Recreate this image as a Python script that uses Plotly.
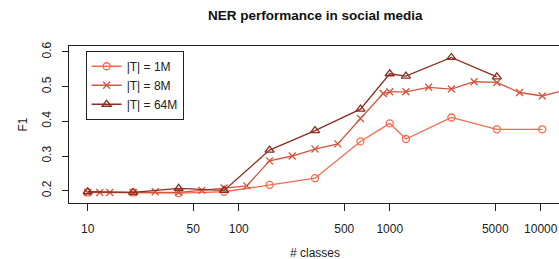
import plotly.graph_objects as go

x_1M = [10, 20, 40, 80, 160, 320, 640, 1000, 1280, 2560, 5120, 10240]
y_1M = [0.195, 0.195, 0.193, 0.197, 0.217, 0.236, 0.342, 0.394, 0.349, 0.411, 0.377, 0.377]

x_8M = [10, 12, 14, 20, 28, 40, 57, 80, 113, 160, 226, 320, 453, 640, 905, 1000,
        1280, 1810, 2560, 3620, 5120, 7240, 10240, 14480]
y_8M = [0.195, 0.195, 0.195, 0.195, 0.197, 0.195, 0.201, 0.208, 0.214, 0.286, 0.300,
        0.320, 0.335, 0.408, 0.480, 0.485, 0.485, 0.498, 0.493, 0.514, 0.512, 0.483,
        0.473, 0.490]

x_64M = [10, 20, 40, 80, 160, 320, 640, 1000, 1280, 2560, 5120]
y_64M = [0.197, 0.195, 0.207, 0.201, 0.317, 0.373, 0.435, 0.537, 0.530, 0.584, 0.528]

x_ticks = [10, 50, 100, 500, 1000, 5000, 10000]
y_ticks = [0.2, 0.3, 0.4, 0.5, 0.6]

c1, c2, c3 = "#F8694F", "#D4553D", "#8C2E20"
font = "Liberation Sans, Arial, sans-serif"

fig = go.Figure()
fig.add_trace(go.Scatter(x=x_1M, y=y_1M, mode="lines+markers", name="|T| = 1M",
                         line=dict(color=c1, width=1.3),
                         marker=dict(symbol="circle-open", size=7, color=c1, line=dict(width=1.3))))
fig.add_trace(go.Scatter(x=x_8M, y=y_8M, mode="lines+markers", name="|T| = 8M",
                         line=dict(color=c2, width=1.3),
                         marker=dict(symbol="x-thin-open", size=7, color=c2, line=dict(width=1.3))))
fig.add_trace(go.Scatter(x=x_64M, y=y_64M, mode="lines+markers", name="|T| = 64M",
                         line=dict(color=c3, width=1.3),
                         marker=dict(symbol="triangle-up-open", size=8, color=c3, line=dict(width=1.3))))

fig.update_layout(
    width=559, height=259,
    margin=dict(l=69, r=0, t=46, b=56, autoexpand=False),
    paper_bgcolor="white", plot_bgcolor="white",
    font=dict(family=font, size=12, color="#222"),
    showlegend=True,
    legend=dict(x=0.034, y=0.75, xanchor="left", yanchor="middle",
                bgcolor="white", bordercolor="#222", borderwidth=1,
                font=dict(size=12, color="#222"), tracegroupgap=0,
                itemwidth=30),
    annotations=[
        dict(text="<b>NER performance in social media</b>", xref="paper", yref="paper",
             x=0.504, y=1, yshift=31, showarrow=False, font=dict(size=13.5, color="#111"),
             xanchor="center", yanchor="middle"),
        dict(text="# classes", xref="paper", yref="paper", x=0.502, y=0, yshift=-50,
             showarrow=False, font=dict(size=12, color="#222"), xanchor="center", yanchor="middle"),
        dict(text="F1", xref="paper", yref="paper", x=0, xshift=-47, y=0.5, textangle=-90,
             showarrow=False, font=dict(size=12, color="#222"), xanchor="center", yanchor="middle"),
    ],
)
fig.update_xaxes(type="log", range=[0.876, 4.121], tickvals=x_ticks,
                 ticktext=[str(v) for v in x_ticks], automargin=False,
                 ticklabeloverflow="allow",
                 ticks="outside", ticklen=7, tickcolor="#222", tickwidth=1,
                 showline=True, linecolor="#222", linewidth=1, mirror=True,
                 showgrid=False, zeroline=False, ticklabelstandoff=8)
fig.update_yaxes(range=[0.1646, 0.617], tickvals=y_ticks, automargin=False,
                 ticktext=[f"{v:.1f}" for v in y_ticks], tickangle=-90,
                 ticks="outside", ticklen=6, tickcolor="#222", tickwidth=1,
                 showline=True, linecolor="#222", linewidth=1, mirror=False,
                 showgrid=False, zeroline=False, ticklabelstandoff=6)

fig.write_html("out.html", config={"displayModeBar": False},
               post_script="document.body.style.margin='0';document.body.style.overflow='hidden';")
